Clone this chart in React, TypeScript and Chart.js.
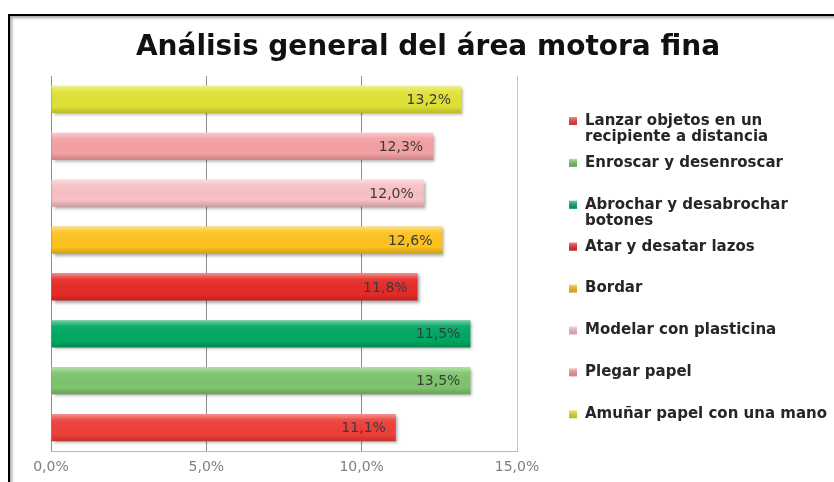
import React, { useEffect, useRef } from "react";
import { Chart, registerables } from "chart.js";

Chart.register(...registerables);

const chartTitle = "Análisis general del área motora fina";

const categories = [
  "Lanzar objetos en un recipiente a distancia",
  "Enroscar y desenroscar",
  "Abrochar y desabrochar botones",
  "Atar y desatar lazos",
  "Bordar",
  "Modelar con plasticina",
  "Plegar papel",
  "Amuñar papel con una mano",
];

const legendLines = [
  ["Lanzar objetos en un", "recipiente a distancia"],
  ["Enroscar y desenroscar"],
  ["Abrochar y desabrochar", "botones"],
  ["Atar y desatar lazos"],
  ["Bordar"],
  ["Modelar con plasticina"],
  ["Plegar papel"],
  ["Amuñar papel con una mano"],
];

const values = [11.1, 13.5, 13.5, 11.8, 12.6, 12.0, 12.3, 13.2];

const valueLabels = ["11,1%", "13,5%", "11,5%", "11,8%", "12,6%", "12,0%", "12,3%", "13,2%"];

const colors = ["#EE3F3A", "#7DC46C", "#00A862", "#E62B28", "#FCC21E", "#F9C0C5", "#F3A0A3", "#DFE234"];

const xTickLabels = ["0,0%", "5,0%", "10,0%", "15,0%"];

const decorPlugin = {
  id: "decor",
  beforeDatasetDraw(chart: any) {
    const ctx = chart.ctx;
    ctx.save();
    ctx.shadowColor = "rgba(0,0,0,0.35)";
    ctx.shadowOffsetX = 2;
    ctx.shadowOffsetY = 2;
    ctx.shadowBlur = 3;
  },
  afterDatasetDraw(chart: any) {
    chart.ctx.restore();
  },
  afterDatasetsDraw(chart: any) {
    const ctx = chart.ctx;
    chart.data.datasets.forEach((ds: any, i: number) => {
      const meta = chart.getDatasetMeta(i);
      meta.data.forEach((el: any, j: number) => {
        if (ds.data[j] == null) return;
        const { x, y, base, height } = el.getProps(["x", "y", "base", "height"], true);
        const top = y - height / 2;
        ctx.save();
        const g = ctx.createLinearGradient(0, top, 0, top + height);
        g.addColorStop(0, "rgba(255,255,255,0.45)");
        g.addColorStop(0.22, "rgba(255,255,255,0.06)");
        g.addColorStop(0.75, "rgba(0,0,0,0)");
        g.addColorStop(1, "rgba(0,0,0,0.18)");
        ctx.fillStyle = g;
        ctx.fillRect(base, top, x - base, height);
        ctx.font = '14px "DejaVu Sans"';
        ctx.fillStyle = "#3b3b3b";
        ctx.textAlign = "right";
        ctx.textBaseline = "middle";
        ctx.fillText(valueLabels[j], x - 10, y + 1);
        ctx.restore();
      });
    });
  },
  afterDraw(chart: any) {
    const ctx = chart.ctx;
    ctx.save();
    // title
    ctx.font = 'bold 28px "DejaVu Sans"';
    ctx.fillStyle = "#111";
    ctx.textAlign = "center";
    ctx.textBaseline = "alphabetic";
    ctx.fillText(chartTitle, 428, 55);
    // legend
    const lx = 569;
    const tx = 585;
    const top = 121;
    const pitch = 41.9;
    ctx.font = 'bold 15px "DejaVu Sans"';
    ctx.textAlign = "left";
    ctx.textBaseline = "middle";
    legendLines.forEach((lines, i) => {
      const cy = top + i * pitch;
      ctx.fillStyle = colors[i];
      ctx.fillRect(lx, cy - 4, 8, 8);
      const g = ctx.createLinearGradient(0, cy - 4, 0, cy + 4);
      g.addColorStop(0, "rgba(255,255,255,0.4)");
      g.addColorStop(1, "rgba(0,0,0,0.15)");
      ctx.fillStyle = g;
      ctx.fillRect(lx, cy - 4, 8, 8);
      ctx.fillStyle = "#262626";
      lines.forEach((t, k) => ctx.fillText(t, tx, cy + k * 16));
    });
    ctx.restore();
  },
};

export default function App() {
  const ref = useRef<HTMLCanvasElement>(null);
  useEffect(() => {
    const chart = new Chart(ref.current as HTMLCanvasElement, {
      type: "bar",
      data: {
        labels: categories,
        datasets: categories.map((name, i) => ({
          label: name,
          data: categories.map((_, j) => (j === i ? values[i] : null)),
          backgroundColor: colors[i],
          borderWidth: 0,
          grouped: false,
          categoryPercentage: 1,
          barPercentage: 0.58,
        })) as any,
      },
      options: {
        indexAxis: "y",
        responsive: false,
        animation: false,
        layout: { padding: { top: 76, left: 51, right: 317, bottom: 0 } },
        plugins: {
          legend: { display: false },
          title: { display: false },
          tooltip: { enabled: false },
        },
        scales: {
          y: { display: false, reverse: true },
          x: {
            min: 0,
            max: 15,
            afterFit: (s: any) => {
              s.height = 31;
            },
            ticks: {
              stepSize: 5,
              padding: 8,
              color: "#7f7f7f",
              font: { family: '"DejaVu Sans"', size: 14 },
              callback: (_v: any, idx: number) => xTickLabels[idx],
            },
            grid: {
              drawTicks: false,
              color: (c: any) => (c.index === 3 ? "#c4c4c4" : "#8e8e8e"),
            },
            border: { color: "#b8b8b8" },
          },
        },
      } as any,
      plugins: [decorPlugin],
    });
    return () => chart.destroy();
  }, []);
  return (
    <div style={{ position: "fixed", left: 0, top: 0, width: 834, height: 482, overflow: "hidden", background: "#fff" }}>
      <div
        style={{
          position: "absolute",
          left: 8,
          top: 14,
          width: 900,
          height: 600,
          border: "2px solid #000",
          boxShadow: "inset 2px 2px 3px rgba(0,0,0,0.35)",
        }}
      />
      <canvas ref={ref} width={834} height={482} style={{ position: "absolute", left: 0, top: 0 }} />
    </div>
  );
}
